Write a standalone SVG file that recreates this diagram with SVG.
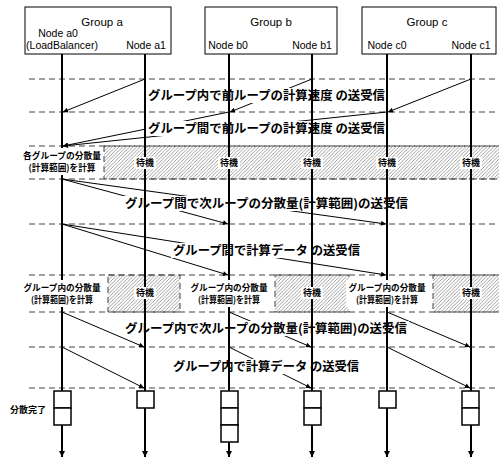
<svg xmlns="http://www.w3.org/2000/svg" width="499" height="459" viewBox="0 0 499 459">
<style>
.grp{fill:#fff;stroke:#000;stroke-width:1}
.gt{font-family:"Liberation Sans",Arial,sans-serif;font-size:11.5px;fill:#000;text-anchor:middle}
.nt{font-family:"Liberation Sans",Arial,sans-serif;font-size:10.5px;fill:#000;text-anchor:middle}
.dash{stroke:#444;stroke-width:1;stroke-dasharray:6 4;fill:none}
.hatch{fill:url(#hp);stroke:#444;stroke-width:1;stroke-dasharray:6 4}
.life{stroke:#000;stroke-width:2;fill:none}
.arr{stroke:#000;stroke-width:1;fill:none;marker-end:url(#ah)}
.lbl{font-family:"Noto Sans CJK JP",sans-serif;font-weight:bold;font-size:12.5px;fill:#000;text-anchor:middle}
.sm{font-family:"Noto Sans CJK JP",sans-serif;font-weight:bold;font-size:9px;fill:#000;text-anchor:middle}
.bg{fill:#fff;stroke:none}
.box{fill:#fff;stroke:#000;stroke-width:1.5}
</style>
<defs>
<pattern id="hp" patternUnits="userSpaceOnUse" width="3.5" height="3.5">
<path d="M-1,1 l2,-2 M0,3.5 l3.5,-3.5 M2.5,4.5 l2,-2" stroke="#777" stroke-width="0.7"/>
</pattern>
<marker id="ah" viewBox="0 0 10 10" refX="10" refY="5" markerWidth="7" markerHeight="5" markerUnits="userSpaceOnUse" orient="auto">
<path d="M0,0 L10,5 L0,10 z" fill="#000"/>
</marker>
<marker id="ahl" viewBox="0 0 10 10" refX="10" refY="5" markerWidth="7" markerHeight="6" markerUnits="userSpaceOnUse" orient="auto">
<path d="M0,0 L10,5 L0,10 z" fill="#000"/>
</marker>
</defs>

<g id="phases">
<line class="dash" x1="29" y1="79" x2="499" y2="79"/>
<line class="dash" x1="29" y1="112" x2="499" y2="112"/>
<line class="dash" x1="29" y1="146" x2="499" y2="146"/>
<line class="dash" x1="29" y1="179" x2="499" y2="179"/>
<line class="dash" x1="29" y1="224" x2="499" y2="224"/>
<line class="dash" x1="29" y1="275" x2="499" y2="275"/>
<line class="dash" x1="29" y1="312" x2="499" y2="312"/>
<line class="dash" x1="29" y1="347" x2="499" y2="347"/>
<line class="dash" x1="29" y1="388" x2="499" y2="388"/>
<rect class="hatch" x="104" y="146" width="400" height="33"/>
<rect class="hatch" x="108" y="275" width="72" height="37"/>
<rect class="hatch" x="275" y="275" width="74" height="37"/>
<rect class="hatch" x="433" y="275" width="70" height="37"/>
</g>

<g id="connectors">
<line class="arr" x1="145" y1="79" x2="63" y2="112"/>
<line class="arr" x1="312" y1="79" x2="230" y2="112"/>
<line class="arr" x1="471" y1="79" x2="388" y2="112"/>
<line class="arr" x1="229" y1="112" x2="63" y2="146"/>
<line class="arr" x1="387" y1="112" x2="63" y2="146"/>
<line class="arr" x1="62" y1="179" x2="228" y2="224"/>
<line class="arr" x1="62" y1="179" x2="386" y2="224"/>
<line class="arr" x1="62" y1="224" x2="228" y2="275"/>
<line class="arr" x1="62" y1="224" x2="386" y2="275"/>
<line class="arr" x1="62" y1="312" x2="144" y2="347"/>
<line class="arr" x1="229" y1="312" x2="311" y2="347"/>
<line class="arr" x1="387" y1="312" x2="470" y2="347"/>
<line class="arr" x1="62" y1="347" x2="144" y2="388"/>
<line class="arr" x1="229" y1="347" x2="311" y2="388"/>
<line class="arr" x1="387" y1="347" x2="470" y2="388"/>
</g>

<g id="labels">
<rect class="bg" x="146" y="88" width="241" height="15"/>
<text class="lbl" x="266.5" y="99.5" textLength="237" lengthAdjust="spacingAndGlyphs">グループ内で前ループの計算速度 の送受信</text>
<rect class="bg" x="146" y="121" width="241" height="15"/>
<text class="lbl" x="266.5" y="132.5" textLength="237" lengthAdjust="spacingAndGlyphs">グループ間で前ループの計算速度 の送受信</text>
<rect class="bg" x="123" y="196" width="287" height="15"/>
<text class="lbl" x="266.5" y="207.5" textLength="283" lengthAdjust="spacingAndGlyphs">グループ間で次ループの分散量(計算範囲)の送受信</text>
<rect class="bg" x="171" y="243" width="191" height="15"/>
<text class="lbl" x="266.5" y="254.5" textLength="187" lengthAdjust="spacingAndGlyphs">グループ間で計算データ の送受信</text>
<rect class="bg" x="123" y="321" width="286" height="15"/>
<text class="lbl" x="266" y="332.5" textLength="282" lengthAdjust="spacingAndGlyphs">グループ内で次ループの分散量(計算範囲)の送受信</text>
<rect class="bg" x="171" y="359" width="190" height="15"/>
<text class="lbl" x="266" y="370.5" textLength="186" lengthAdjust="spacingAndGlyphs">グループ内で計算データ の送受信</text>
</g>

<g id="lifelines">
<line class="life" x1="62" y1="54" x2="62" y2="457" marker-end="url(#ahl)"/>
<line class="life" x1="145" y1="54" x2="145" y2="457" marker-end="url(#ahl)"/>
<line class="life" x1="229" y1="54" x2="229" y2="457" marker-end="url(#ahl)"/>
<line class="life" x1="312" y1="54" x2="312" y2="457" marker-end="url(#ahl)"/>
<line class="life" x1="387" y1="54" x2="387" y2="457" marker-end="url(#ahl)"/>
<line class="life" x1="471" y1="54" x2="471" y2="457" marker-end="url(#ahl)"/>
</g>

<g id="done-boxes">
<rect class="box" x="54" y="391" width="17" height="17"/>
<rect class="box" x="54" y="408" width="17" height="17"/>
<rect class="box" x="137" y="391" width="17" height="17"/>
<rect class="box" x="221" y="391" width="17" height="17"/>
<rect class="box" x="221" y="408" width="17" height="17"/>
<rect class="box" x="221" y="425" width="17" height="17"/>
<rect class="box" x="304" y="391" width="17" height="17"/>
<rect class="box" x="304" y="408" width="17" height="17"/>
<rect class="box" x="379" y="391" width="17" height="17"/>
<rect class="box" x="462" y="391" width="17" height="17"/>
<rect class="box" x="462" y="408" width="17" height="17"/>
<text class="sm" x="28" y="413">分散完了</text>
</g>

<g id="wait-labels">
<rect class="bg" x="134" y="157" width="22" height="12"/>
<text class="sm" x="145" y="166">待機</text>
<rect class="bg" x="218" y="157" width="22" height="12"/>
<text class="sm" x="229" y="166">待機</text>
<rect class="bg" x="301" y="157" width="22" height="12"/>
<text class="sm" x="312" y="166">待機</text>
<rect class="bg" x="376" y="157" width="22" height="12"/>
<text class="sm" x="387" y="166">待機</text>
<rect class="bg" x="460" y="157" width="22" height="12"/>
<text class="sm" x="471" y="166">待機</text>
<rect class="bg" x="134" y="287" width="22" height="12"/>
<text class="sm" x="145" y="296">待機</text>
<rect class="bg" x="301" y="287" width="22" height="12"/>
<text class="sm" x="312" y="296">待機</text>
<rect class="bg" x="460" y="287" width="22" height="12"/>
<text class="sm" x="471" y="296">待機</text>
</g>

<g id="calc-labels">
<rect class="bg" x="20" y="148" width="83" height="27"/>
<text class="sm" x="62" y="158.5" textLength="78" lengthAdjust="spacingAndGlyphs">各グループの分散量</text>
<text class="sm" x="62" y="171" textLength="67" lengthAdjust="spacingAndGlyphs">(計算範囲)を計算</text>
<rect class="bg" x="21" y="280" width="82" height="27"/>
<text class="sm" x="62" y="290.5" textLength="77" lengthAdjust="spacingAndGlyphs">グループ内の分散量</text>
<text class="sm" x="62" y="303" textLength="62" lengthAdjust="spacingAndGlyphs">(計算範囲)を計算</text>
<rect class="bg" x="188" y="280" width="82" height="27"/>
<text class="sm" x="229" y="290.5" textLength="77" lengthAdjust="spacingAndGlyphs">グループ内の分散量</text>
<text class="sm" x="229" y="303" textLength="62" lengthAdjust="spacingAndGlyphs">(計算範囲)を計算</text>
<rect class="bg" x="346" y="280" width="82" height="27"/>
<text class="sm" x="387" y="290.5" textLength="77" lengthAdjust="spacingAndGlyphs">グループ内の分散量</text>
<text class="sm" x="387" y="303" textLength="62" lengthAdjust="spacingAndGlyphs">(計算範囲)を計算</text>
</g>

<g id="group-a">
<rect class="grp" x="25" y="7" width="146" height="47"/>
<text class="gt" x="102" y="26">Group a</text>
<text class="nt" x="58" y="37">Node a0</text>
<text class="nt" x="62" y="49">(LoadBalancer)</text>
<text class="nt" x="146" y="49">Node a1</text>
</g>
<g id="group-b">
<rect class="grp" x="205" y="7" width="132" height="47"/>
<text class="gt" x="271" y="26">Group b</text>
<text class="nt" x="228" y="49">Node b0</text>
<text class="nt" x="312" y="49">Node b1</text>
</g>
<g id="group-c">
<rect class="grp" x="362" y="7" width="134" height="47"/>
<text class="gt" x="427" y="26">Group c</text>
<text class="nt" x="387" y="49">Node c0</text>
<text class="nt" x="471" y="49">Node c1</text>
</g>
</svg>
